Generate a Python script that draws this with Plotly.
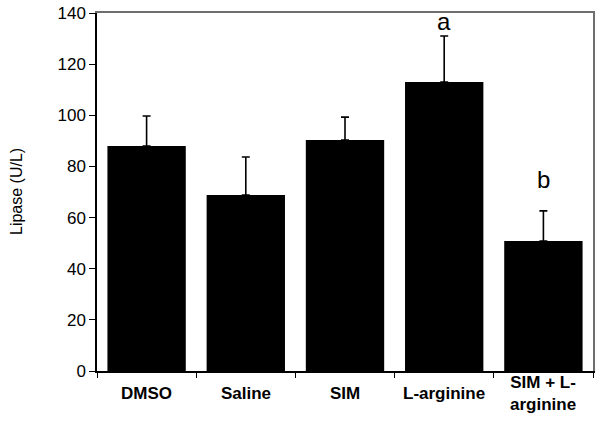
import plotly.graph_objects as go

categories = ["DMSO", "Saline", "SIM", "L-arginine", "SIM + L-<br>arginine"]
means = [88.0, 68.8, 90.3, 113.0, 50.8]
err_upper = [11.7, 14.9, 9.0, 18.0, 11.8]
sig_labels = ["", "", "", "a", "b"]
sig_y = [None, None, None, 136.5, 74.7]

FONT = "Arial, Liberation Sans, sans-serif"
FRAME = "#6e6e6e"

fig = go.Figure()
fig.add_trace(go.Bar(
    x=categories, y=means,
    marker=dict(color="black", line=dict(width=0)),
    error_y=dict(type="data", symmetric=False, array=err_upper,
                 arrayminus=[0]*len(means), color="black", thickness=1.6, width=4),
    showlegend=False,
))
# invisible helper trace so the grey top/right frame axes are drawn
fig.add_trace(go.Scatter(x=[0, 1], y=[0, 1], xaxis="x2", yaxis="y2",
                         mode="markers", marker=dict(opacity=0),
                         hoverinfo="skip", showlegend=False))

for c, lab, yy in zip(categories, sig_labels, sig_y):
    if lab:
        fig.add_annotation(x=c, y=yy, text=lab, showarrow=False,
                           font=dict(family=FONT, size=24, color="black"))

# category labels as annotations (vertically centred like the reference)
for c in categories:
    fig.add_annotation(x=c, xref="x", y=0, yref="paper", yanchor="middle",
                       yshift=-22, text=c, showarrow=False,
                       font=dict(family=FONT, size=17, color="black", weight="bold"))

# y-axis title
fig.add_annotation(x=0, xref="paper", y=0.5, yref="paper", xshift=-81,
                   text="Lipase (U/L)", textangle=-90, showarrow=False,
                   xanchor="center", yanchor="middle",
                   font=dict(family=FONT, size=16, color="black"))

fig.update_layout(
    width=600, height=425,
    margin=dict(l=97, r=7, t=13, b=54, autoexpand=False),
    paper_bgcolor="white", plot_bgcolor="white",
    bargap=0.21,
    font=dict(family=FONT, color="black"),
    xaxis=dict(
        tickson="boundaries", ticks="outside", ticklen=5, tickcolor="black", tickwidth=1,
        showline=True, linecolor="black", linewidth=1.5,
        showticklabels=False, showgrid=False, automargin=False,
    ),
    yaxis=dict(
        range=[0, 140], dtick=20, ticks="outside", ticklen=6, tickcolor="black",
        showline=True, linecolor="black", linewidth=1.5,
        tickfont=dict(size=17), showgrid=False, zeroline=False, automargin=False,
    ),
    xaxis2=dict(overlaying="x", side="top", anchor="y2", showline=True,
                linecolor=FRAME, linewidth=1.5, showticklabels=False, ticks="",
                showgrid=False, zeroline=False, range=[0, 1], automargin=False),
    yaxis2=dict(overlaying="y", side="right", anchor="x2", showline=True,
                linecolor=FRAME, linewidth=1.5, showticklabels=False, ticks="",
                showgrid=False, zeroline=False, range=[0, 1], automargin=False),
)

# remove the default 8px page margin so the figure sits at the window origin
fig.write_html("out.html", config={"displayModeBar": False},
               post_script="document.body.style.margin='0';")
